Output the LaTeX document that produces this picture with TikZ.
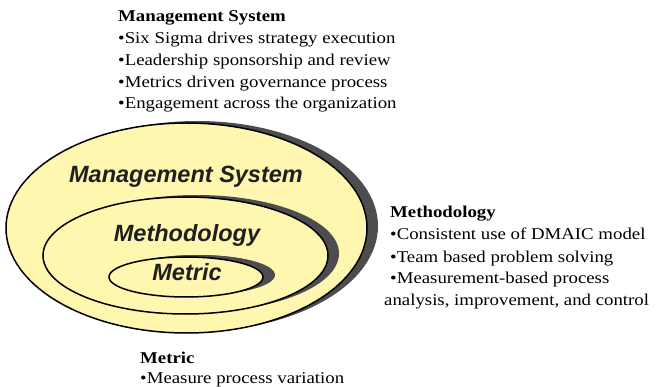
\documentclass[tikz,border=0pt]{standalone}
\usepackage{fontspec}
\setmainfont{Liberation Serif}[FakeStretch=1.14]
\newfontfamily\labelsans{Liberation Sans}
\usetikzlibrary{shapes.geometric,shadows}
\definecolor{paleyellow}{HTML}{FFF6B0}
\definecolor{shadowgray}{HTML}{4D4D4F}
\tikzset{
  ring/.style={ellipse, draw=black, line width=1.5pt, fill=paleyellow, inner sep=0pt, outer sep=0pt,
    drop shadow={shadow xshift=11pt, shadow yshift=2pt, fill=shadowgray, opacity=1}},
  ringlabel/.style={anchor=base, inner sep=0pt, font=\labelsans\bfseries\itshape\fontsize{23.5}{26}\selectfont, text=black!88},
  blocktext/.style={anchor=base west, inner sep=0pt, font=\fontsize{16.5}{20}\selectfont},
  blocktitle/.style={blocktext, font=\bfseries\fontsize{16.5}{20}\selectfont}
}
\begin{document}
\begin{tikzpicture}[x=1pt,y=-1pt]
\useasboundingbox (0,0) rectangle (658,387);
% ellipses
\node[ring, minimum width=361pt, minimum height=210pt] (outer) at (186.5,228) {};
\node[ring, minimum width=285pt, minimum height=117pt] (middle) at (185.5,255.5) {};
\node[ring, minimum width=154pt, minimum height=40pt, drop shadow={shadow xshift=12pt, shadow yshift=2pt, fill=shadowgray, opacity=1}] (inner) at (186,277) {};
% labels in the ellipses
\node[ringlabel] (lms) at (186,183) {Management System};
\node[ringlabel] (lmeth) at (187,242) {Methodology};
\node[ringlabel] (lmet) at (187,280) {Metric};
% management system block
\node[blocktitle] (mst) at (118,22) {Management System};
\node[blocktext] (ms1) at (118,44) {{•}Six Sigma drives strategy execution};
\node[blocktext] (ms2) at (118,66) {{•}Leadership sponsorship and review};
\node[blocktext] (ms3) at (118,87.5) {{•}Metrics driven governance process};
\node[blocktext] (ms4) at (118,109) {{•}Engagement across the organization};
% methodology block
\node[blocktitle] (mt) at (390,218) {Methodology};
\node[blocktext] (m1) at (390,240) {{•}Consistent use of DMAIC model};
\node[blocktext] (m2) at (390,262) {{•}Team based problem solving};
\node[blocktext] (m3) at (390,283.5) {{•}Measurement-based process};
\node[blocktext] (m4) at (384,305) {analysis, improvement, and control};
% metric block
\node[blocktitle] (mett) at (140,363) {Metric};
\node[blocktext] (met1) at (140,383) {{•}Measure process variation};
\end{tikzpicture}
\end{document}
